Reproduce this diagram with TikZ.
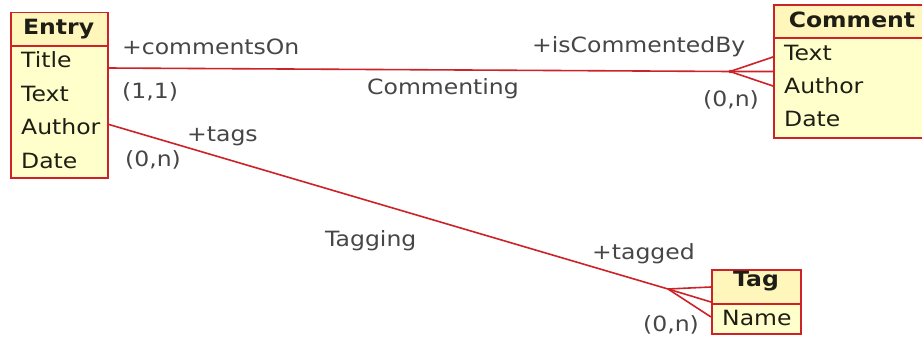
\documentclass[tikz,border=0pt]{standalone}
\usepackage{fontspec}
\setmainfont[FakeStretch=1.12]{DejaVu Sans}
\definecolor{umlred}{RGB}{204,34,40}
\definecolor{bodyyellow}{RGB}{255,255,204}
\definecolor{headyellow}{RGB}{255,246,188}
\definecolor{attrtext}{RGB}{30,30,20}
\definecolor{labeltext}{RGB}{70,70,70}
\begin{document}
\begin{tikzpicture}[x=1pt,y=-1pt,
  every node/.style={font=\fontsize{21}{25}\selectfont},
  boxpart/.style={draw=umlred, line width=1.8pt, inner sep=0pt, anchor=north west},
  headpart/.style={boxpart, fill=headyellow},
  bodypart/.style={boxpart, fill=bodyyellow},
  headtext/.style={font=\fontsize{21}{25}\selectfont\bfseries, text=attrtext, inner sep=0pt, anchor=base},
  attr/.style={text=attrtext, inner sep=0pt, anchor=base west},
  lbl/.style={text=labeltext, inner sep=0pt, anchor=base west},
  rel/.style={draw=umlred, line width=1.6pt}]
\useasboundingbox (0,0) rectangle (922,342);
\clip (0,0) rectangle (922,342);
\fill[white] (0,0) rectangle (922,342);

% Entry
\node[headpart, minimum width=97.3pt, minimum height=33.3pt] (entryh) at (10,11.7) {};
\node[bodypart, minimum width=97.3pt, minimum height=132.3pt] (entryb) at (10,45) {};
\node[headtext] (entryt) at (58.6,35) {Entry};
\node[attr] (ea1) at (21,68) {Title};
\node[attr] (ea2) at (21,101.5) {Text};
\node[attr] (ea3) at (21,135) {Author};
\node[attr] (ea4) at (21,168.5) {Date};

% Comment
\node[headpart, minimum width=158pt, minimum height=33pt] (commh) at (773,4) {};
\node[bodypart, minimum width=158pt, minimum height=100pt] (commb) at (773,37) {};
\node[headtext] (commt) at (852,28) {Comment};
\node[attr] (ca1) at (784,60.5) {Text};
\node[attr] (ca2) at (784,93.5) {Author};
\node[attr] (ca3) at (784,127) {Date};

% Tag
\node[headpart, minimum width=89pt, minimum height=33.6pt] (tagh) at (711,269.3) {};
\node[bodypart, minimum width=89pt, minimum height=30.3pt] (tagb) at (711,302.9) {};
\node[headtext] (tagt) at (756,287) {Tag};
\node[attr] (ta1) at (722,325.5) {Name};

% Commenting association
\coordinate (e1) at (107.3,68);
\coordinate (cf1) at (730,71.5);
\coordinate (c1) at (773,71.5);
\coordinate (c1u) at (773,57);
\coordinate (c1d) at (773,86);
\draw[rel] (e1) -- (cf1) -- (c1);
\draw[rel] (cf1) -- (c1u);
\draw[rel] (cf1) -- (c1d);
\fill[umlred] (cf1) circle (1.8pt);

% Tagging association
\coordinate (e2) at (107.3,124);
\coordinate (cf2) at (668,289);
\coordinate (t2) at (711,302);
\coordinate (t2u) at (711,287);
\coordinate (t2d) at (711,317);
\draw[rel] (e2) -- (cf2) -- (t2);
\draw[rel] (cf2) -- (t2u);
\draw[rel] (cf2) -- (t2d);

% Labels
\node[lbl] (l1) at (122,55) {+commentsOn};
\node[lbl] (l2) at (122,99) {(1,1)};
\node[lbl] (l3) at (367,95) {Commenting};
\node[lbl] (l4) at (532,53) {+isCommentedBy};
\node[lbl] (l5) at (703,107) {(0,n)};
\node[lbl] (l6) at (187,142) {+tags};
\node[lbl] (l7) at (125,167) {(0,n)};
\node[lbl] (l8) at (325,247) {Tagging};
\node[lbl] (l9) at (592,259) {+tagged};
\node[lbl] (l10) at (643,331) {(0,n)};
\end{tikzpicture}
\end{document}
